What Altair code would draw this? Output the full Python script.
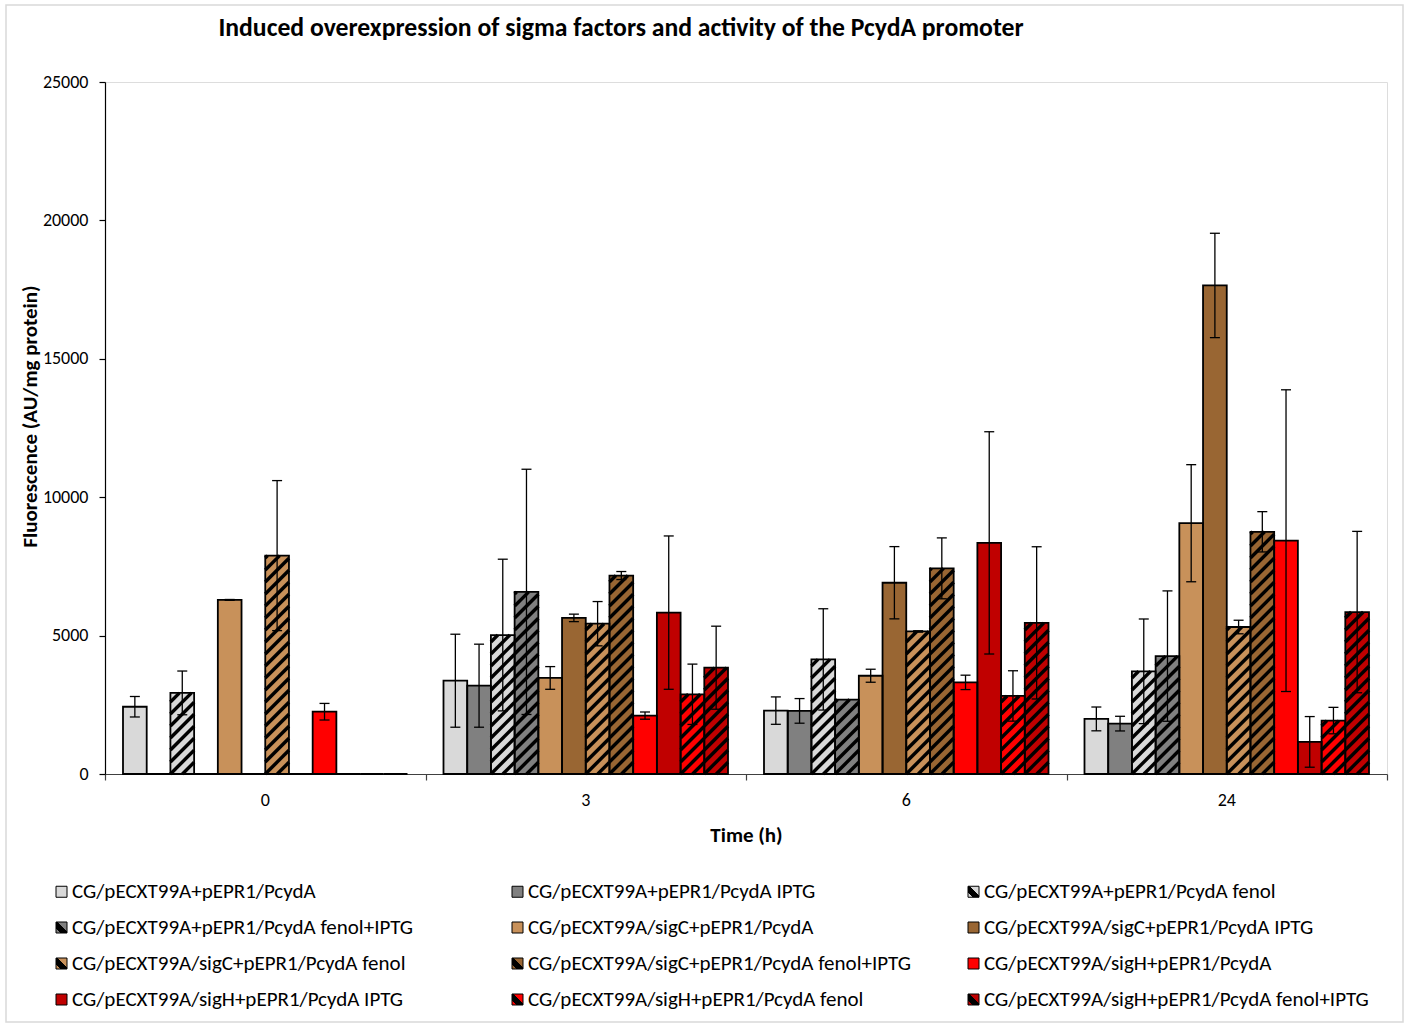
import altair as alt
import pandas as pd

# ---------------- data ----------------
times = ["0", "3", "6", "24"]
series = [
    "CG/pECXT99A+pEPR1/PcydA",
    "CG/pECXT99A+pEPR1/PcydA IPTG",
    "CG/pECXT99A+pEPR1/PcydA fenol",
    "CG/pECXT99A+pEPR1/PcydA fenol+IPTG",
    "CG/pECXT99A/sigC+pEPR1/PcydA",
    "CG/pECXT99A/sigC+pEPR1/PcydA IPTG",
    "CG/pECXT99A/sigC+pEPR1/PcydA fenol",
    "CG/pECXT99A/sigC+pEPR1/PcydA fenol+IPTG",
    "CG/pECXT99A/sigH+pEPR1/PcydA",
    "CG/pECXT99A/sigH+pEPR1/PcydA IPTG",
    "CG/pECXT99A/sigH+pEPR1/PcydA fenol",
    "CG/pECXT99A/sigH+pEPR1/PcydA fenol+IPTG",
]
colors = ["#D9D9D9", "#808080", "#D9D9D9", "#808080",
          "#C8915A", "#996633", "#C8915A", "#996633",
          "#FF0000", "#C00000", "#FF0000", "#C00000"]
hatched = [False, False, True, True, False, False, True, True, False, False, True, True]

# values per series at times 0, 3, 6, 24 h
values = [
    [2430, 3370, 2290, 1990],
    [0, 3190, 2280, 1820],
    [2930, 5020, 4140, 3710],
    [0, 6580, 2690, 4260],
    [6290, 3470, 3550, 9060],
    [0, 5640, 6910, 17650],
    [7890, 5430, 5150, 5310],
    [0, 7170, 7430, 8750],
    [2250, 2110, 3310, 8430],
    [0, 5830, 8350, 1160],
    [0, 2880, 2820, 1930],
    [0, 3840, 5460, 5850],
]
errors = [
    [370, 1680, 495, 430],
    [0, 1500, 445, 265],
    [790, 2740, 1830, 1890],
    [0, 4430, 0, 2355],
    [15, 410, 235, 2115],
    [0, 135, 1305, 1885],
    [2710, 800, 25, 245],
    [0, 145, 1100, 728],
    [300, 130, 260, 5450],
    [0, 2770, 4015, 915],
    [0, 1090, 910, 478],
    [0, 1500, 2750, 2915],
]

rows = []
for si, s in enumerate(series):
    for ti, t in enumerate(times):
        rows.append({"series": s, "si": si, "time": t, "ti": ti,
                     "value": values[si][ti], "err": errors[si][ti],
                     "color": colors[si], "hatched": hatched[si]})
df = pd.DataFrame(rows)
tdf = pd.DataFrame({"label": times, "ti": list(range(len(times)))})

# ---------------- layout constants ----------------
W, H = 1282, 692
YMAX = 25000
GAP = 0.1123
OFF = GAP / 2
BW = (1 - GAP) / 12
PXX = W / 4.0
PXY = H / YMAX
BWPX = BW * PXX
PER = 12.0
CAP = 5.0 / PXX
FONT = "Carlito, Lato, sans-serif"

xscale = alt.Scale(domain=[0, 4], nice=False, zero=False)
yscale = alt.Scale(domain=[0, YMAX], nice=False)
xaxis = alt.Axis(values=[0, 1, 2, 3, 4], labels=False, tickSize=6, grid=False,
                 domainColor="#404040", tickColor="#404040", domainWidth=1.2, tickWidth=1.2,
                 title="Time (h)", titleFont=FONT, titleFontSize=21, titleFontWeight="bold",
                 titleColor="black", titleY=50, titleBaseline="top")
yaxis = alt.Axis(values=list(range(0, YMAX + 1, 5000)), format="d", tickSize=6, grid=False,
                 domainColor="black", tickColor="black", domainWidth=1.2, tickWidth=1.2,
                 labelFont=FONT, labelFontSize=18, labelColor="black", labelPadding=11,
                 title="Fluorescence (AU/mg protein)", titleFont=FONT, titleFontSize=21,
                 titleFontWeight="bold", titleColor="black", titleX=-65, titleY=334,
                 titleBaseline="bottom")


def X(field):
    return alt.X(field, type="quantitative", scale=xscale, axis=xaxis)


def Y(field):
    return alt.Y(field, type="quantitative", scale=yscale, axis=yaxis)


base = alt.Chart(df).transform_calculate(
    xl=f"datum.ti + {OFF} + datum.si * {BW}",
).transform_calculate(
    xr=f"datum.xl + {BW}",
    xc=f"datum.xl + {BW / 2}",
    lo="datum.value - datum.err",
    hi="datum.value + datum.err",
)

fills = base.mark_rect(strokeWidth=0).encode(
    x=X("xl"), x2="xr", y=Y("value"), y2=alt.datum(0),
    fill=alt.Fill("color:N", scale=None),
)

stripes = base.transform_filter("datum.hatched && datum.value > 0").transform_calculate(
    hp=f"datum.value * {PXY}"
).transform_calculate(
    ks=f"sequence(floor(-{BWPX} / {PER}), ceil(datum.hp / {PER}) + 1)"
).transform_flatten(["ks"]).transform_calculate(
    c=f"datum.ks * {PER}"
).transform_calculate(
    xs="max(0, -datum.c)",
    xe=f"min({BWPX}, datum.hp - datum.c)",
).transform_filter("datum.xe > datum.xs + 0.05").transform_calculate(
    X1=f"datum.xl + datum.xs / {PXX}",
    Y1=f"(datum.xs + datum.c) / {PXY}",
    X2=f"datum.xl + datum.xe / {PXX}",
    Y2=f"(datum.xe + datum.c) / {PXY}",
).mark_rule(color="black", strokeWidth=3.4, strokeCap="butt").encode(
    x=X("X1"), y=Y("Y1"), x2="X2", y2="Y2",
)

outlines = base.mark_rect(filled=False, stroke="black", strokeWidth=1.8).encode(
    x=X("xl"), x2="xr", y=Y("value"), y2=alt.datum(0),
)

ebase = base.transform_filter("datum.err > 0")
evert = ebase.mark_rule(color="black", strokeWidth=1.3).encode(
    x=X("xc"), y=Y("lo"), y2="hi",
)
ecap_hi = ebase.transform_calculate(
    cl=f"datum.xc - {CAP}", cr=f"datum.xc + {CAP}"
).mark_rule(color="black", strokeWidth=1.3).encode(
    x=X("cl"), x2="cr", y=Y("hi"),
)
ecap_lo = ebase.transform_calculate(
    cl=f"datum.xc - {CAP}", cr=f"datum.xc + {CAP}"
).mark_rule(color="black", strokeWidth=1.3).encode(
    x=X("cl"), x2="cr", y=Y("lo"),
)

xlabels = alt.Chart(tdf).transform_calculate(xm="datum.ti + 0.5").mark_text(
    dy=27, font=FONT, fontSize=18, color="black", baseline="middle"
).encode(
    x=X("xm"), y=alt.Y(datum=0, type="quantitative", scale=yscale, axis=yaxis),
    text="label:N",
)


def grad(c):
    return {"expr": ("{gradient: 'linear', x1: 0, y1: 1, x2: 1, y2: 0, stops: ["
                     f"{{offset: 0, color: '{c}'}}, {{offset: 0.22, color: '{c}'}}, "
                     "{offset: 0.22, color: 'black'}, {offset: 0.58, color: 'black'}, "
                     f"{{offset: 0.58, color: '{c}'}}, {{offset: 1, color: '{c}'}}]}}")}


legend_range = [grad(c) if h else c for c, h in zip(colors, hatched)]

legend_layer = base.transform_filter("false").mark_square(
    size=121, stroke="black", strokeWidth=1, opacity=1
).encode(
    x=X("xc"), y=Y("value"),
    fill=alt.Fill("series:N", scale=alt.Scale(domain=series, range=legend_range),
                  legend=alt.Legend(orient="none", legendX=-54, legendY=799, columns=3,
                                    direction="horizontal",
                                    title=None, labelFont=FONT, labelFontSize=21,
                                    labelColor="black", labelLimit=700, symbolType="square",
                                    symbolSize=121, symbolStrokeColor="black",
                                    symbolStrokeWidth=1, labelOffset=0, rowPadding=14,
                                    columnPadding=50, gridAlign="all")),
)

frame = alt.Chart(pd.DataFrame({"a": [0]})).mark_rect(
    filled=False, stroke="#D9D9D9", strokeWidth=1.5
).encode(
    x=alt.value(-99), x2=alt.value(1298), y=alt.value(-77), y2=alt.value(940)
)

chart = alt.layer(
    fills, stripes, outlines, evert, ecap_hi, ecap_lo, xlabels, legend_layer, frame
).properties(
    width=W, height=H,
    padding={"left": 105, "top": 82, "right": 24, "bottom": 251},
    autosize=alt.AutoSizeParams(type="none"),
    title=alt.TitleParams(
        text="Induced overexpression of sigma factors and activity of the PcydA promoter",
        font=FONT, fontSize=25.7, fontWeight="bold", color="black",
        anchor="middle", dx=-125, offset=-37,
    ),
).configure_view(strokeWidth=0, stroke="transparent").configure(background="white")

chart.save("out.html", embed_options={"renderer": "svg", "actions": False})
